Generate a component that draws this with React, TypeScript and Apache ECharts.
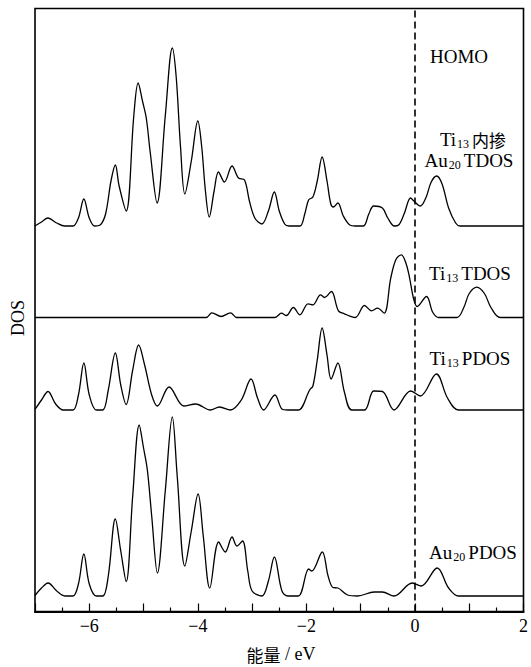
import React, { useEffect, useRef } from "react";
import * as echarts from "echarts";

// Energy (eV) and DOS (arb. units), for each curve
const dosTiAuTotal: number[][] = [
  [-7.0, 0], [-6.88, 4], [-6.76, 8], [-6.6, 3], [-6.45, 0], [-6.3, 0], [-6.2, 8], [-6.1, 27], [-6.0, 8], [-5.9, 0],
  [-5.8, 1], [-5.7, 12], [-5.6, 45], [-5.52, 61], [-5.45, 40], [-5.32, 15], [-5.18, 110], [-5.1, 143], [-5.02, 125],
  [-4.95, 108], [-4.88, 75], [-4.75, 23], [-4.6, 110], [-4.47, 178], [-4.40, 150], [-4.32, 80], [-4.24, 32],
  [-4.12, 65], [-4.0, 105], [-3.93, 80], [-3.86, 35], [-3.79, 9], [-3.7, 35], [-3.62, 54], [-3.51, 44], [-3.37, 60],
  [-3.25, 48], [-3.14, 46], [-3.05, 25], [-2.95, 8], [-2.82, 2], [-2.7, 15], [-2.59, 34], [-2.5, 15], [-2.4, 2],
  [-2.32, 0], [-2.12, 0], [-2.03, 12], [-1.96, 26], [-1.88, 29], [-1.80, 45], [-1.71, 69], [-1.62, 45], [-1.55, 22],
  [-1.50, 19], [-1.42, 23], [-1.32, 10], [-1.2, 1], [-1.1, 0], [-0.95, 0], [-0.85, 12], [-0.76, 20], [-0.6, 18],
  [-0.5, 8], [-0.38, 0], [-0.3, 1], [-0.2, 12], [-0.08, 28], [-0.02, 25], [0.10, 20], [0.2, 28], [0.3, 44],
  [0.4, 50], [0.5, 42], [0.62, 18], [0.75, 3], [0.83, 0], [2.0, 0],
];

const dosTiTotal: number[][] = [
  [-7, 0], [-3.85, 0], [-3.74, 4.7], [-3.57, 1], [-3.40, 4.7], [-3.28, 0], [-2.58, 0], [-2.46, 4.3], [-2.37, 2],
  [-2.24, 10], [-2.12, 2.7], [-1.97, 13.7], [-1.88, 12.7], [-1.74, 22.7], [-1.665, 20], [-1.54, 26], [-1.41, 6.7],
  [-1.30, 3.7], [-1.10, 0], [-0.93, 12], [-0.80, 6.7], [-0.69, 9.3], [-0.567, 4.3], [-0.446, 39.3], [-0.35, 58],
  [-0.25, 62.7], [-0.17, 55], [-0.11, 42.7], [-0.02, 17.7], [0.04, 11], [0.213, 21], [0.33, 5], [0.44, 0],
  [0.775, 0], [0.9, 10], [1.0, 24], [1.14, 30.3], [1.28, 24], [1.4, 10], [1.57, 0], [2, 0],
];

const dosTiPartial: number[][] = [
  [-7, 0.5], [-6.88, 10], [-6.76, 18.5], [-6.62, 6], [-6.48, 0], [-6.3, 0], [-6.2, 15], [-6.1, 47], [-6.0, 15],
  [-5.87, 0], [-5.75, 0], [-5.65, 20], [-5.52, 57], [-5.42, 25], [-5.32, 5.5], [-5.2, 40], [-5.09, 65], [-4.98, 45],
  [-4.85, 15], [-4.745, 4], [-4.53, 23], [-4.256, 4], [-4.04, 6], [-3.77, 0], [-3.60, 3], [-3.40, 0], [-3.2, 10],
  [-3.02, 31], [-2.9, 12], [-2.79, 0], [-2.58, 15], [-2.45, 1], [-2.34, 0], [-2.15, 0], [-1.94, 20], [-1.88, 24],
  [-1.8, 50], [-1.71, 82], [-1.62, 55], [-1.545, 31], [-1.42, 47], [-1.3, 18], [-1.165, 0], [-0.93, 0],
  [-0.76, 19], [-0.6, 18.5], [-0.385, 0], [-0.08, 19], [0.10, 14], [0.395, 36], [0.6, 12], [0.805, 0], [2, 0],
];

const dosAuPartial: number[][] = [
  [-7, 0.5], [-6.88, 8], [-6.76, 13], [-6.6, 5], [-6.45, 0], [-6.3, 0], [-6.2, 12], [-6.1, 42], [-6.0, 12],
  [-5.87, 0], [-5.75, 0], [-5.65, 20], [-5.52, 77], [-5.42, 45], [-5.32, 14.5], [-5.2, 100], [-5.08, 171],
  [-5.0, 148], [-4.93, 126], [-4.85, 80], [-4.745, 23], [-4.6, 105], [-4.47, 179], [-4.38, 120], [-4.24, 30],
  [-4.12, 65], [-3.995, 102], [-3.9, 60], [-3.78, 8], [-3.616, 54], [-3.494, 44], [-3.37, 59], [-3.28, 50],
  [-3.177, 55], [-3.08, 25], [-3.0, 5], [-2.82, 0], [-2.7, 15], [-2.59, 39], [-2.45, 5], [-2.34, 0], [-2.15, 0],
  [-1.957, 27], [-1.9, 25], [-1.708, 44], [-1.6, 20], [-1.51, 8.5], [-1.42, 8], [-1.24, 1], [-1.06, 0],
  [-0.75, 4], [-0.6, 4], [-0.385, 0], [-0.05, 13], [0.115, 10], [0.41, 28], [0.62, 8], [0.805, 0], [2, 0],
];

// vertical offsets (stacking) of the four curves
const curveOffsets = [385.5, 294, 201.5, 15.5];
const curves = [dosTiAuTotal, dosTiTotal, dosTiPartial, dosAuPartial];
const curveNames = ["Ti13内掺Au20 TDOS", "Ti13 TDOS", "Ti13 PDOS", "Au20 PDOS"];

const xMin = -7;
const xMax = 2;
const yMax = 603;

const SERIF = "Liberation Serif";
const CJK = "Noto Sans CJK SC";

export default function App() {
  const ref = useRef<HTMLDivElement>(null);
  useEffect(() => {
    if (!ref.current) return;
    const chart = echarts.init(ref.current, undefined, { renderer: "svg" });
    const rich = {
      n: { fontFamily: SERIF, fontSize: 19, lineHeight: 22, color: "#000" },
      s: { fontFamily: SERIF, fontSize: 12, lineHeight: 11, verticalAlign: "bottom", padding: [0, 3, 0, 1], color: "#000" },
      c: { fontFamily: CJK, fontSize: 17, lineHeight: 22, color: "#000" },
      a: { fontFamily: CJK, fontSize: 17, lineHeight: 20, color: "#000" },
      b: { fontFamily: SERIF, fontSize: 18, lineHeight: 20, color: "#000" },
    };
    const label = (x: number, y: number, text: string, extra: any = {}) => ({
      type: "text",
      x,
      y,
      ...extra,
      style: {
        text,
        rich,
        fill: "#000",
        font: `19px "${SERIF}"`,
        textAlign: "center",
        textVerticalAlign: "middle",
        align: "center",
        verticalAlign: "middle",
      },
    });
    const series: any[] = curves.map((c, i) => ({
      type: "line",
      name: curveNames[i],
      data: c.map(([e, d]) => [e, d + curveOffsets[i]]),
      showSymbol: false,
      symbol: "none",
      smooth: 0.35,
      lineStyle: { color: "#000", width: 1.3 },
      silent: true,
      z: 3,
    }));
    series[0].markLine = {
      silent: true,
      symbol: "none",
      label: { show: false },
      lineStyle: { color: "#000", width: 1.6, type: [7, 4] },
      data: [{ xAxis: 0 }],
    };
    chart.setOption({
      animation: false,
      textStyle: { fontFamily: SERIF },
      grid: {
        left: 35,
        right: 4,
        top: 8.5,
        bottom: 55.5,
        show: true,
        borderColor: "#000",
        borderWidth: 1.6,
        backgroundColor: "transparent",
      },
      xAxis: {
        type: "value",
        min: xMin,
        max: xMax,
        interval: 1,
        axisLine: { show: true, onZero: false, lineStyle: { color: "#000", width: 2.2 } },
        axisTick: { show: true, inside: true, length: 8, lineStyle: { color: "#000", width: 1.2 } },
        minorTick: { show: true, splitNumber: 2, length: 4, lineStyle: { color: "#000", width: 1.2 } },
        splitLine: { show: false },
        axisLabel: {
          color: "#000",
          fontFamily: SERIF,
          fontSize: 18,
          margin: 5,
          formatter: (v: number) => (Math.round(v) % 2 === 0 ? String(v).replace("-", "\u2212") : ""),
        },
      },
      yAxis: {
        type: "value",
        min: 0,
        max: yMax,
        show: false,
        splitLine: { show: false },
      },
      series,
      graphic: [
        label(459, 56, "{n|HOMO}"),
        label(473, 139, "{n|Ti}{s|13}{c|内掺}"),
        label(469, 160, "{n|Au}{s|20}{n|TDOS}"),
        label(470, 273, "{n|Ti}{s|13}{n|TDOS}"),
        label(470, 358, "{n|Ti}{s|13}{n|PDOS}"),
        label(473, 552, "{n|Au}{s|20}{n|PDOS}"),
        label(281, 654, "{a|能量}{b| / eV}"),
        label(18, 318, "{b|DOS}", { rotation: Math.PI / 2 }),
      ],
    });
    return () => chart.dispose();
  }, []);
  return (
    <div
      ref={ref}
      style={{ position: "fixed", left: 0, top: 0, width: 531, height: 667, background: "#fff" }}
    />
  );
}
